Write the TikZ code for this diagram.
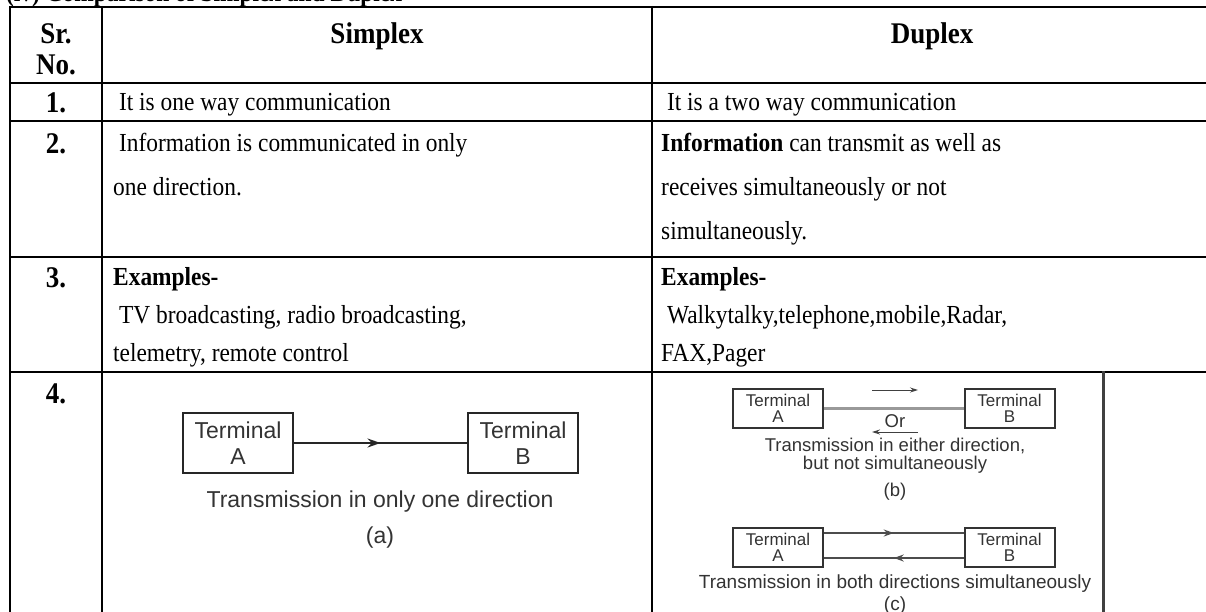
\documentclass[tikz,border=0pt]{standalone}
\usepackage{fontspec}
\setmainfont{Liberation Serif}[FakeStretch=0.9]
\newfontfamily\diagfont{Liberation Sans}
\usetikzlibrary{arrows.meta,decorations.markings}
\begin{document}
\begin{tikzpicture}[x=1pt,y=-1pt,
  grid/.style={line width=2pt, black},
  body/.style={anchor=base west, inner sep=0pt, font=\fontsize{26}{31}\selectfont},
  head/.style={anchor=base, inner sep=0pt, font=\fontsize{30}{34}\selectfont\bfseries},
  num/.style={anchor=base, inner sep=0pt, font=\fontsize{30}{34}\selectfont\bfseries},
  tboxa/.style={draw=black!85, line width=2.5pt, minimum width=110pt, minimum height=60pt, inner sep=0pt, align=center, text=black!80, font=\diagfont\fontsize{23}{26}\selectfont},
  tboxb/.style={draw=black!80, line width=2pt, minimum width=90pt, minimum height=39pt, inner sep=0pt, align=center, text=black!80, font=\diagfont\fontsize{17}{16}\selectfont},
  capa/.style={inner sep=0pt, text=black!80, font=\diagfont\fontsize{23}{26}\selectfont},
  capb/.style={anchor=base, inner sep=0pt, text=black!80, font=\diagfont\fontsize{18.5}{20}\selectfont},
  capc/.style={anchor=base, inner sep=0pt, text=black!80, font=\diagfont\fontsize{19}{20}\selectfont},
  midarrow/.style={postaction={decorate}, decoration={markings, mark=at position 0.5 with {\arrow{#1}}}},
  linka/.style={line width=2pt, draw=black!85, midarrow={Stealth[length=13pt,width=9pt]}},
  linkc/.style={line width=2pt, draw=black!70, midarrow={Stealth[length=10pt,width=7pt]}},
  thinarrow/.style={line width=1pt, draw=black!75, -{Stealth[length=8pt,width=5pt]}},
  midline/.style={line width=3pt, draw=black!40}
]
\useasboundingbox (0,0) rectangle (1206,612);
\clip (0,0) rectangle (1206,612);

% title (cut off at the top)
\node[anchor=base west, inner sep=0pt, font=\fontsize{26}{30}\selectfont\bfseries] (title) at (6,1.5) {(iv) Comparison of Simplex and Duplex};

% table grid
\draw[grid] (10,7) -- (1206,7);
\draw[grid] (10,83) -- (1206,83);
\draw[grid] (10,121) -- (1206,121);
\draw[grid] (10,257) -- (1206,257);
\draw[grid] (10,372) -- (1206,372);
\draw[grid] (10,6) -- (10,612);
\draw[grid] (102,6) -- (102,612);
\draw[grid] (652,6) -- (652,612);
\draw[line width=3pt, black!75] (1103,371) -- (1103,612);

% header
\node[head] (sr) at (56,44) {Sr.};
\node[head] (no) at (56,75) {No.};
\node[head] (hs) at (377,44) {Simplex};
\node[head] (hd) at (932,44) {Duplex};

% row 1
\node[num] (n1) at (56,113) {1.};
\node[body] (s1) at (113,111) {~It is one way communication};
\node[body] (d1) at (661,111) {~It is a two way communication};

% row 2
\node[num] (n2) at (56,154) {2.};
\node[body] (s2a) at (113,152) {~Information is communicated in only};
\node[body] (s2b) at (113,196) {one direction.};
\node[body] (d2a) at (661,152) {\textbf{Information} can transmit as well as};
\node[body] (d2b) at (661,196) {receives simultaneously or not};
\node[body] (d2c) at (661,240) {simultaneously.};

% row 3
\node[num] (n3) at (56,287) {3.};
\node[body] (s3a) at (113,285) {\textbf{Examples-}};
\node[body] (s3b) at (113,323) {~TV broadcasting, radio broadcasting,};
\node[body] (s3c) at (113,361) {telemetry, remote control};
\node[body] (d3a) at (661,285) {\textbf{Examples-}};
\node[body] (d3b) at (661,323) {~Walkytalky,telephone,mobile,Radar,};
\node[body] (d3c) at (661,361) {FAX,Pager};

% row 4
\node[num] (n4) at (56,403) {4.};

% diagram (a)
\node[tboxa] (ta) at (238,443) {Terminal\\A};
\node[tboxa] (tb) at (523,443) {Terminal\\B};
\draw[linka] (ta) -- (tb);
\node[capa] (capa1) at (380,502) {Transmission in only one direction};
\node[capa] (capa2) at (380,538) {(a)};

% diagram (b)
\node[tboxb] (ba) at (778,408.5) {Terminal\\A};
\node[tboxb] (bb) at (1009.5,408.5) {Terminal\\B};
\draw[midline] (ba) -- (bb);
\coordinate (r1) at (872,390);
\coordinate (r2) at (918,390);
\draw[thinarrow] (r1) -- (r2);
\node[capb] (or) at (895,427) {Or};
\coordinate (l1) at (918,432);
\coordinate (l2) at (872,432);
\draw[thinarrow] (l1) -- (l2);
\node[capb] (capb1) at (895,451) {Transmission in either direction,};
\node[capb] (capb2) at (895,469) {but not simultaneously};
\node[capb] (capb3) at (895,496) {(b)};

% diagram (c)
\node[tboxb] (ca) at (778,547) {Terminal\\A};
\node[tboxb] (cb) at (1009.5,547) {Terminal\\B};
\coordinate (up) at (0,533);
\coordinate (lo) at (0,558);
\draw[linkc] (ca.east |- up) -- (cb.west |- up);
\draw[linkc] (cb.west |- lo) -- (ca.east |- lo);
\node[capc] (capc1) at (895,588) {Transmission in both directions simultaneously};
\node[capc] (capc2) at (895,610) {(c)};
\end{tikzpicture}
\end{document}
